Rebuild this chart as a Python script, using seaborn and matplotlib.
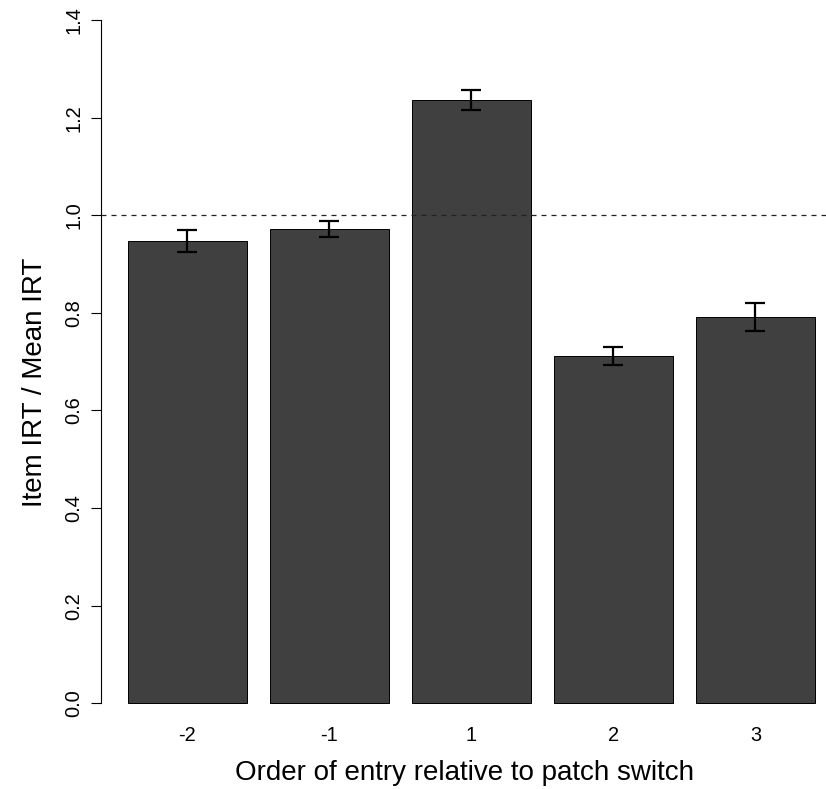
import numpy as np
import pandas as pd
import seaborn as sns
import matplotlib.pyplot as plt

# --- DATOS ---
orden = ['-2', '-1', '1', '2', '3']
ratio_irt = [0.947, 0.972, 1.236, 0.712, 0.792]
error_irt = [0.023, 0.017, 0.021, 0.018, 0.029]

sns.set_style('ticks')
plt.rcParams['font.family'] = ['Liberation Sans', 'DejaVu Sans']
plt.rcParams.update({'text.color': 'black', 'axes.labelcolor': 'black',
                     'xtick.color': 'black', 'ytick.color': 'black',
                     'axes.edgecolor': 'black'})

df = pd.DataFrame({'orden': orden, 'ratio': ratio_irt})

# ejes en pixeles: izquierda 100.5, abajo 703.3 (y=0), escala 488 px por unidad
W, H = 826, 789
fig = plt.figure(figsize=(W / 100, H / 100), dpi=100)
ax = fig.add_axes([100.5 / W, (H - 703.3) / H, (W - 100.5) / W, 703.3 / H])

sns.barplot(data=df, x='orden', y='ratio', order=orden, color='#404040',
            saturation=1, width=0.833, edgecolor='black', linewidth=0.7,
            errorbar=None, ax=ax)
for p in ax.patches:
    p.set_clip_on(False)

ax.errorbar(np.arange(len(orden)), ratio_irt, yerr=error_irt, fmt='none',
            ecolor='black', elinewidth=1.6, capsize=7.5, capthick=1.6)

ax.axhline(1.0, color='#222222', linestyle=(0, (4, 4)), linewidth=0.9)

ax.set_xlim(-0.612, 4.497)
ax.set_ylim(0, 703.3 / 488)
ax.set_yticks([0.0, 0.2, 0.4, 0.6, 0.8, 1.0, 1.2, 1.4])
ax.set_yticklabels(['0.0', '0.2', '0.4', '0.6', '0.8', '1.0', '1.2', '1.4'],
                   rotation=90, va='center')

sns.despine(ax=ax, bottom=True)
ax.spines['left'].set_bounds(0, 1.4)
ax.spines['left'].set_linewidth(0.8)
ax.tick_params(axis='y', length=7.5, width=0.8, pad=5, labelsize=14.4)
ax.tick_params(axis='x', length=0, pad=16.5, labelsize=14.4)

ax.set_xlabel('Order of entry relative to patch switch', fontsize=20)
ax.set_ylabel('Item IRT / Mean IRT', fontsize=20)
ax.xaxis.label.set_va('baseline')
ax.yaxis.label.set_va('baseline')
ax.xaxis.set_label_coords(0.5024, -0.109)
ax.yaxis.set_label_coords(-0.0806, 0.4569)

plt.savefig('out.png', dpi=100)
plt.close()
